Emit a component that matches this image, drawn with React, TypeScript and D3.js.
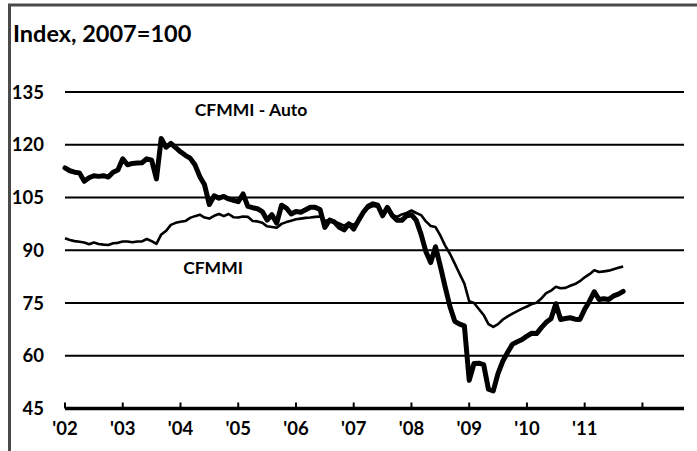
import React from 'react';
import * as d3 from 'd3';

// monthly values, Jan 2002 .. Sep 2011
const autoSeries = [
  113.4, 112.6, 112.2, 112.0, 109.6, 110.6, 111.2, 111.0, 111.2, 110.8, 112.2, 112.8,
  116.0, 114.3, 114.7, 114.8, 114.9, 116.0, 115.6, 110.3, 121.8, 119.3, 120.4, 119.2,
  118.0, 117.0, 116.2, 114.3, 111.0, 108.6, 103.0, 105.5, 104.8, 105.3, 104.6, 104.2,
  103.8, 106.0, 102.5, 102.1, 101.8, 101.0, 98.6, 100.1, 97.7, 102.8, 102.0, 100.3,
  101.0, 100.8, 101.5, 102.2, 102.2, 101.6, 96.5, 98.6, 98.0, 96.5, 95.8, 97.5,
  96.0, 98.5, 100.8, 102.5, 103.2, 102.8, 99.8, 102.2, 99.9, 98.5, 98.5, 99.8,
  100.1, 98.5, 94.5, 89.6, 86.5, 91.0, 85.5, 79.6, 74.0, 69.8, 69.0, 68.5,
  53.0, 57.8, 57.9, 57.5, 50.5, 50.0, 55.0, 58.5, 61.0, 63.3, 64.0, 64.6,
  65.6, 66.4, 66.3, 68.0, 69.5, 70.5, 74.8, 70.3, 70.6, 70.8, 70.4, 70.3,
  73.2, 75.5, 78.2, 76.0, 76.2, 76.0, 77.0, 77.5, 78.3,
];

const cfmmiSeries = [
  93.4, 92.9, 92.6, 92.4, 92.2, 91.7, 92.2, 91.8, 91.6, 91.5, 92.0, 92.1,
  92.5, 92.5, 92.3, 92.5, 92.5, 93.2, 92.6, 91.8, 94.5, 95.5, 97.2, 97.8,
  98.1, 98.3, 99.2, 99.7, 100.1, 99.3, 99.0, 99.8, 100.3, 99.7, 100.3, 99.4,
  99.3, 99.6, 99.5, 98.3, 98.2, 97.8, 96.8, 96.6, 96.4, 97.5, 98.0, 98.4,
  98.8, 99.0, 99.2, 99.3, 99.5, 99.6, 98.4, 98.6, 98.2, 97.6, 97.0, 97.8,
  97.2, 98.4, 100.5, 102.0, 102.6, 102.4, 100.8, 101.8, 100.0, 99.5, 100.2, 100.6,
  101.3, 100.6, 100.0, 98.2, 96.9, 96.6, 94.2, 91.3, 89.0, 86.2, 83.3, 80.5,
  75.5, 75.0, 73.3, 71.6, 69.0, 68.2, 69.0, 70.3, 71.2, 72.0, 72.7, 73.4,
  74.0, 74.7, 75.1, 76.3, 77.8, 78.5, 79.6, 79.2, 79.3, 79.9, 80.4, 81.2,
  82.3, 83.2, 84.3, 83.8, 84.0, 84.2, 84.6, 85.0, 85.4,
];

const yTicks = [45, 60, 75, 90, 105, 120, 135];
const xYears = [2002, 2003, 2004, 2005, 2006, 2007, 2008, 2009, 2010, 2011, 2012];
const xLabels = ["'02", "'03", "'04", "'05", "'06", "'07", "'08", "'09", "'10", "'11", ""];

const W = 697;
const H = 451;
const FONT = 'Lato, "Open Sans", sans-serif';

export default function App() {
  const x = d3.scaleLinear().domain([2002, 2012.72]).range([65, 684]);
  const y = d3.scaleLinear().domain([45, 135]).range([408.5, 92]);

  const line = d3
    .line<number>()
    .x((_, i) => x(2002 + i / 12))
    .y((d) => y(d))
    .curve(d3.curveLinear);

  const [x0, x1] = x.range();

  return (
    <svg
      width={W}
      height={H}
      style={{ position: 'absolute', left: 0, top: 0, background: '#fff' }}
      fontFamily={FONT}
    >
      {/* frame (top + left only are visible) */}
      <line x1={8} x2={W} y1={5} y2={5} stroke="#4a4a4a" strokeWidth={3} />
      <line x1={9.5} x2={9.5} y1={4} y2={H} stroke="#4a4a4a" strokeWidth={3} />

      <text x={13} y={42} fontSize={23.5} fontWeight="bold" fill="#000">
        Index, 2007=100
      </text>

      {/* gridlines */}
      {yTicks.filter((t) => t > 45).map((t) => (
        <line key={t} x1={x0} x2={x1} y1={y(t)} y2={y(t)} stroke="#000" strokeWidth={2} />
      ))}

      {/* y labels */}
      {yTicks.map((t) => (
        <text
          key={'l' + t}
          x={44}
          y={y(t)}
          dy="0.36em"
          textAnchor="end"
          fontSize={18.5}
          fontWeight="bold"
          fill="#000"
        >
          {t}
        </text>
      ))}

      {/* x axis */}
      <line x1={x0} x2={x1} y1={y(45)} y2={y(45)} stroke="#000" strokeWidth={3.5} />
      {xYears.map((yr, i) => (
        <g key={yr} transform={`translate(${x(yr)},0)`}>
          <line y1={y(45)} y2={y(45) - 6} stroke="#000" strokeWidth={2} />
          <text y={435} textAnchor="middle" fontSize={18.5} fontWeight="bold" fill="#000">
            {xLabels[i]}
          </text>
        </g>
      ))}

      {/* series */}
      <path d={line(cfmmiSeries) ?? ''} fill="none" stroke="#000" strokeWidth={2.6} strokeLinejoin="round" />
      <path d={line(autoSeries) ?? ''} fill="none" stroke="#000" strokeWidth={5} strokeLinejoin="round" strokeLinecap="round" />

      <text x={251} y={116} textAnchor="middle" fontSize={17.5} fontWeight="bold" fill="#000">
        CFMMI - Auto
      </text>
      <text x={213} y={274} textAnchor="middle" fontSize={17.5} fontWeight="bold" fill="#000">
        CFMMI
      </text>
    </svg>
  );
}
